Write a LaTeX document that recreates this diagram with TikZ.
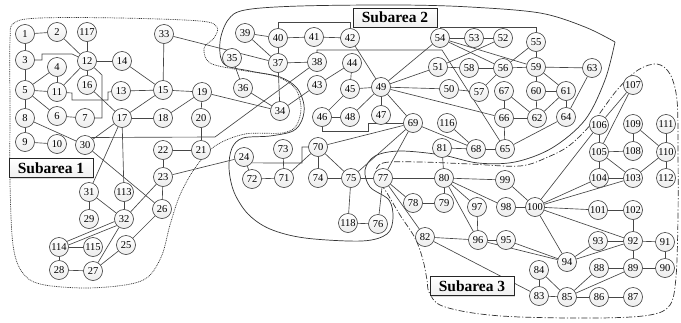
\documentclass[tikz,border=0pt]{standalone}
\usepackage{fontspec}
\setmainfont{Liberation Serif}
\usetikzlibrary{shadows}
\pgfdeclarelayer{bg}
\pgfdeclarelayer{bgg}
\pgfsetlayers{bgg,bg,main}
\begin{document}
\begin{tikzpicture}[x=1pt,y=-1pt,
  bus/.style={circle,draw=gray!45!black,line width=0.6pt,top color=white,bottom color=gray!14,
    minimum size=19pt,inner sep=0pt,font=\fontsize{10.5}{10}\selectfont},
  ln/.style={draw=gray!55!black,line width=0.65pt},
  bnd/.style={draw=gray!40!black,line width=0.7pt},
  lbl/.style={draw=gray!30!black,line width=0.8pt,top color=white,bottom color=gray!12,
    font=\bfseries\fontsize{15.5}{16}\selectfont,inner sep=0pt,minimum height=19pt,minimum width=84pt,
    drop shadow={shadow xshift=1.2pt,shadow yshift=-1.2pt,fill=gray!55}}
]
\useasboundingbox (0,0) rectangle (681,322);

% ---------------- buses ----------------
\foreach \n/\x/\y in {
 1/25/34, 2/57/32, 117/87/32, 33/164/34, 3/25/60, 12/87/61, 14/122/61, 4/57/67,
 16/87/85, 5/25/90, 11/57/92, 13/121/91, 15/163/90, 8/25/118, 6/57/116, 7/85/118,
 17/122/118, 18/163/118, 9/25/142, 10/57/144, 30/85/145, 22/163/150, 23/163/177,
 31/89/192, 113/124/192, 26/162/209, 29/89/219, 32/124/219, 114/59/247, 115/93/247,
 25/126/245, 28/59/270, 27/93/271, 19/202/92, 20/201/118, 21/201/150, 24/244/157,
 39/245/33, 40/278/38, 41/314/37, 42/350/38, 35/232/58, 37/278/63, 38/317/62,
 36/243/88, 43/317/85, 34/280/111, 44/352/63, 45/350/89, 46/322/117, 48/350/117,
 47/381/115, 49/381/87, 73/283/149, 70/318/147, 72/252/179, 71/284/178, 74/318/178,
 75/351/178, 77/383/178, 118/348/223, 76/378/224, 54/440/38, 53/474/38, 52/503/38,
 55/536/42, 51/438/67, 58/469/68, 56/503/68, 59/536/67, 63/592/68, 50/449/89,
 57/479/92, 67/504/91, 60/536/91, 61/566/91, 69/413/123, 116/447/123, 66/504/118,
 62/537/118, 64/566/117, 81/442/148, 68/476/149, 65/505/149, 80/444/178, 99/505/180,
 78/413/203, 79/444/203, 97/477/207, 98/506/207, 82/425/237, 96/478/240, 95/506/240,
 100/535/207, 107/633/85, 106/599/125, 109/633/124, 111/666/124, 105/599/152,
 108/633/151, 110/666/152, 104/599/178, 103/633/178, 112/666/178, 101/598/210,
 102/633/210, 93/598/241, 92/633/241, 91/665/242, 94/567/262, 84/539/270, 88/599/268,
 89/633/268, 90/665/268, 83/539/296, 85/567/297, 86/599/297, 87/633/297}
  \node[bus] (\n) at (\x,\y) {\n};

% ---------------- area labels ----------------
\node[lbl] (sa1) at (51,168) {Subarea 1};
\node[lbl] (sa2) at (395,17.5) {Subarea 2};
\node[lbl] (sa3) at (472,286) {Subarea 3};

% ---------------- lines ----------------
\begin{pgfonlayer}{bg}
\foreach \a/\b in {1/2, 1/3, 3/5, 2/12, 117/12, 12/14, 14/15, 33/15, 4/5, 4/11, 5/11, 5/6,
  11/12, 12/16, 16/17, 6/7, 5/8, 8/9, 9/10, 8/30, 17/30, 30/26, 13/15, 15/17, 17/18,
  15/19, 18/19, 19/20, 20/21, 21/22, 22/23, 23/26, 23/24, 19/34, 17/31, 17/113, 31/29,
  31/32, 113/32, 23/32, 114/115, 114/28, 28/27, 32/27, 26/25, 25/27,
  33/37, 39/40, 40/41, 41/42, 39/37, 37/40, 37/38, 37/34, 35/36, 36/34, 43/34, 43/44,
  44/45, 45/49, 45/46, 46/48, 48/49, 47/49, 42/49, 49/69, 49/50, 49/51, 49/54, 49/66,
  54/53, 53/52, 52/51, 54/56, 54/59, 55/56, 55/59, 56/59, 51/58, 58/56, 56/57, 50/57,
  59/60, 59/61, 60/61, 60/62, 61/62, 59/63, 63/64, 61/64, 66/62, 67/62, 66/67, 66/65,
  64/65, 68/65, 69/68, 68/116, 81/68, 81/80, 69/70, 69/75, 69/77, 70/71, 70/74, 70/75,
  24/72, 72/71, 71/73, 74/75, 75/77, 75/118, 118/76, 76/77, 77/80, 77/78, 78/79, 79/80,
  77/82, 80/99, 80/98, 80/97, 80/96, 97/96, 96/95, 82/96, 82/83, 96/94, 95/94, 99/100,
  98/100, 100/94, 100/92, 100/101, 100/103, 100/104, 100/106, 106/107, 105/107, 105/106,
  104/105, 105/108, 105/103, 104/103, 103/110, 110/112, 110/111, 109/110, 108/109,
  101/102, 102/92, 92/91, 91/90, 92/89, 89/90, 93/92, 93/94, 94/92, 89/88, 88/85, 85/89,
  85/86, 86/87, 84/85, 84/83, 83/85}
  \draw[ln] (\a) -- (\b);
\draw[ln] (114.35) -- (32.195);
\draw[ln] (114.12) -- (32.222);
\draw[ln] (3) -- (42,60) -- (42,54) -- (72,54) -- (12);
\draw[ln] (11) -- (72,93) -- (72,100) -- (108,100) -- (108,92) -- (13);
\draw[ln] (12) -- (102,75) -- (102,118) -- (7);
\draw[ln] (30.50) -- (215,137) -- (38);
\draw[ln] (40) -- (278,22) -- (350,22) -- (42);
\draw[ln] (38) -- (317,50) -- (442,50) -- (65);
\draw[ln] (46) -- (322,131) -- (368,131) -- (368,123) -- (69);
\draw[ln] (54) -- (440,27) -- (536,27) -- (55);
\draw[ln] (24.-37) -- (302,163) -- (302,147) -- (70);
\end{pgfonlayer}

% ---------------- sub-area boundaries ----------------
\begin{pgfonlayer}{bgg}
\draw[bnd,dash pattern=on 0.9pt off 0.9pt] plot[smooth cycle,tension=0.55] coordinates {
 (10,40) (14,23) (40,18) (120,18) (200,21) (217,27) (214,38) (204,48) (210,63) (240,70)
 (275,76) (295,88) (301,108) (296,126) (282,133) (245,134) (215,146) (195,168) (180,195)
 (170,225) (162,255) (148,277) (125,285) (83,288) (40,284) (22,272) (13,245) (10,183) (10,110)};
\draw[bnd] plot[smooth,tension=0.55] coordinates {
 (615,42) (605,80) (585,120) (552,148) (515,162) (478,163) (442,155) (400,151) (375,156)
 (365,170) (370,187) (389,200) (393,218) (387,234) (362,241) (305,238) (270,229) (248,214)
 (234,192) (229,168) (232,148) (243,138) (270,136) (293,131) (302,120) (304,105) (297,88)
 (280,77) (250,71) (224,64) (220,42) (228,20) (245,10) (300,6) (400,5) (470,7) (540,13)
 (585,27) (615,42)};
\draw[bnd,dash pattern=on 6pt off 2pt on 1.2pt off 2pt] plot[smooth cycle,tension=0.55] coordinates {
 (376,175) (383,163) (420,162) (470,164) (520,166) (548,157) (570,145) (593,122) (617,90)
 (638,70) (657,64) (670,74) (677,100) (678,150) (678,217) (676,277) (670,305) (650,315)
 (600,318) (520,317) (473,313) (440,305) (429,292) (427,280) (423,260) (415,238) (400,215)
 (387,193)};
\end{pgfonlayer}
\end{tikzpicture}
\end{document}
